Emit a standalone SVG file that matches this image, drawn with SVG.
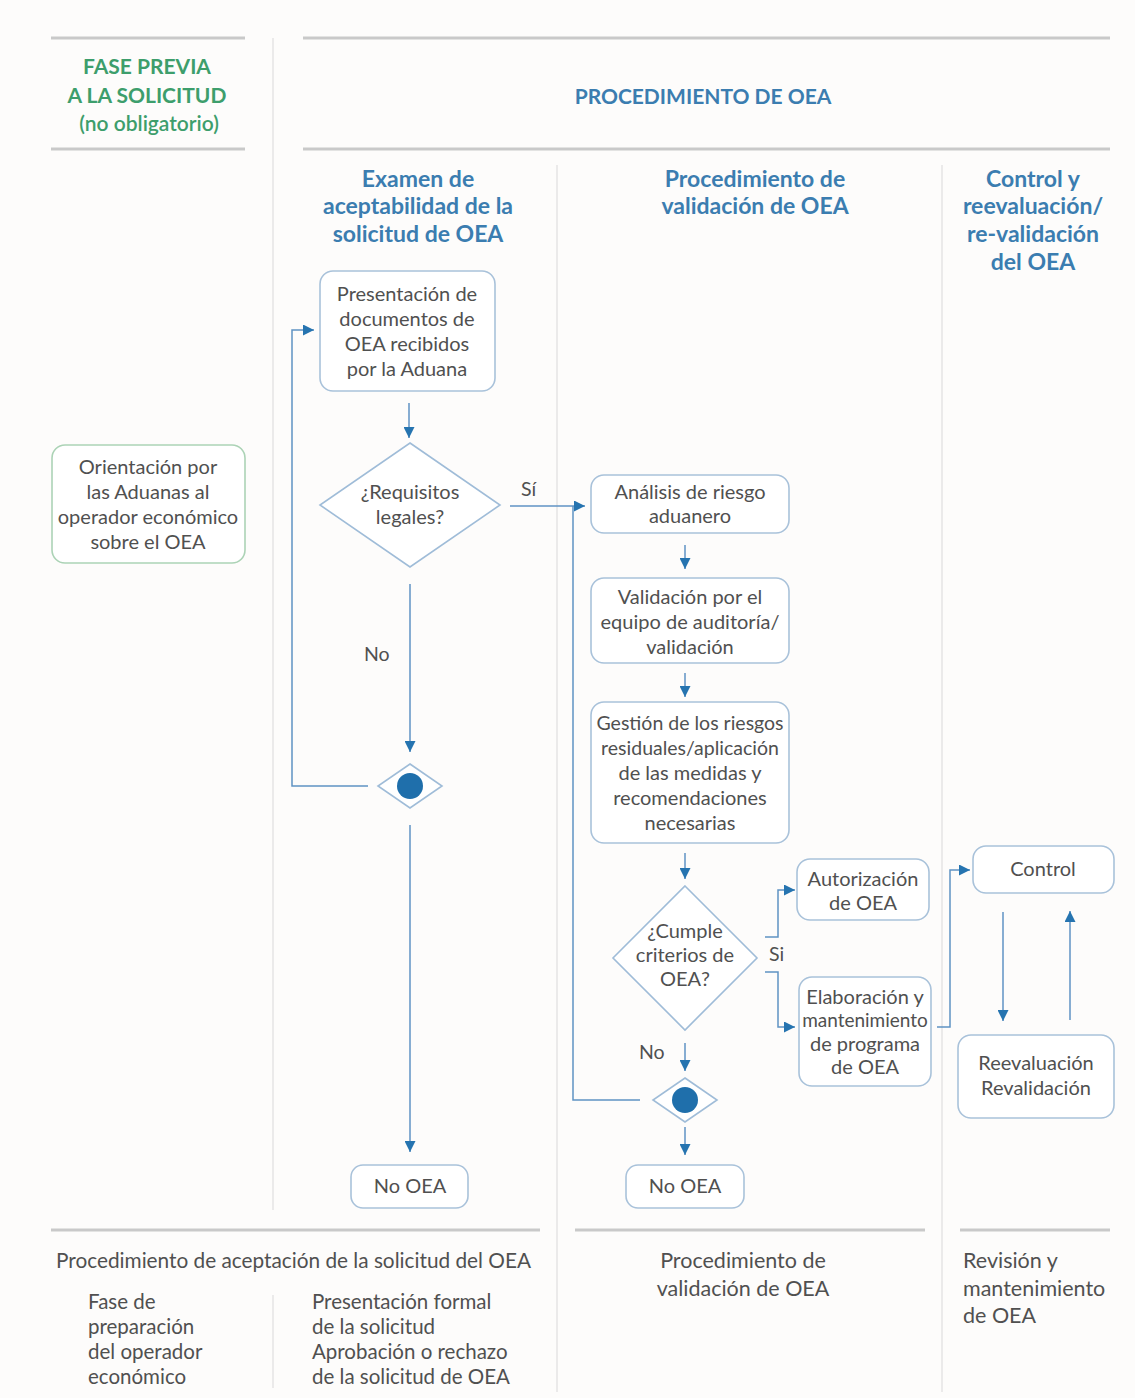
<svg xmlns="http://www.w3.org/2000/svg" width="1135" height="1398" viewBox="0 0 1135 1398">
<defs>
<marker id="ah" markerUnits="userSpaceOnUse" markerWidth="11" markerHeight="11" refX="10" refY="5" orient="auto" viewBox="0 0 10 10">
<path d="M0,0 L10,5 L0,10 z" fill="#2674b0"/>
</marker>
</defs>
<style>
text{font-family:Lato,"Liberation Sans",sans-serif;}
.hl{stroke:#c9c9c9;stroke-width:3;fill:none;}
.vl{stroke:#e4e4e4;stroke-width:1.5;fill:none;}
.box{fill:#ffffff;stroke:#a9c2da;stroke-width:1.6;}
.gbox{fill:#ffffff;stroke:#acd3b6;stroke-width:1.6;}
.dia{fill:#ffffff;stroke:#9fbcd8;stroke-width:1.6;}
.t{font-size:20px;fill:#505050;text-anchor:middle;}
.lbl{font-size:19.5px;fill:#505050;}
.h{font-size:23px;font-weight:bold;fill:#3b7db0;text-anchor:middle;}
.g{font-size:21px;font-weight:bold;fill:#3d9e6c;text-anchor:middle;}
.b{font-size:20.5px;fill:#505050;}
.bb{font-size:21.5px;fill:#505050;}
.c{stroke:#5f93c4;stroke-width:1.5;fill:none;}
.ca{stroke:#5f93c4;stroke-width:1.5;fill:none;marker-end:url(#ah);}
.dot{fill:#1f6fab;}
</style>
<rect x="0" y="0" width="1135" height="1398" fill="#fdfcfb"/>

<g id="frame">
<line class="hl" x1="51" y1="38" x2="245" y2="38"/>
<line class="hl" x1="51" y1="149" x2="245" y2="149"/>
<line class="hl" x1="303" y1="38" x2="1110" y2="38"/>
<line class="hl" x1="303" y1="149" x2="1110" y2="149"/>
<line class="vl" x1="273" y1="38" x2="273" y2="1210"/>
<line class="vl" x1="557" y1="165" x2="557" y2="1392"/>
<line class="vl" x1="942" y1="165" x2="942" y2="1392"/>
<line class="hl" x1="51" y1="1230" x2="540" y2="1230"/>
<line class="hl" x1="575" y1="1230" x2="925" y2="1230"/>
<line class="hl" x1="960" y1="1230" x2="1110" y2="1230"/>
<line class="vl" x1="273" y1="1295" x2="273" y2="1388"/>
</g>

<g id="headers">
<text class="g" x="147" y="74">FASE PREVIA</text>
<text class="g" x="147" y="103">A LA SOLICITUD</text>
<text class="g" x="149" y="131" style="font-weight:600">(no obligatorio)</text>
<text class="h" x="703" y="104" style="font-size:21px">PROCEDIMIENTO DE OEA</text>
<text class="h" x="418" y="187">Examen de</text>
<text class="h" x="418" y="214">aceptabilidad de la</text>
<text class="h" x="418" y="242">solicitud de OEA</text>
<text class="h" x="755" y="187">Procedimiento de</text>
<text class="h" x="755" y="214">validación de OEA</text>
<text class="h" x="1033" y="187">Control y</text>
<text class="h" x="1033" y="214">reevaluación/</text>
<text class="h" x="1033" y="242">re-validación</text>
<text class="h" x="1033" y="270">del OEA</text>
</g>

<g id="connectors">
<line class="ca" x1="409" y1="403" x2="409" y2="438"/>
<line class="ca" x1="510" y1="506" x2="585" y2="506"/>
<line class="ca" x1="410" y1="584" x2="410" y2="752"/>
<polyline class="ca" points="368,786 292,786 292,330 314,330"/>
<line class="ca" x1="410" y1="825" x2="410" y2="1152"/>
<line class="ca" x1="685" y1="545" x2="685" y2="569"/>
<line class="ca" x1="685" y1="673" x2="685" y2="697"/>
<line class="ca" x1="685" y1="853" x2="685" y2="879"/>
<line class="ca" x1="685" y1="1043" x2="685" y2="1071"/>
<polyline class="c" points="640,1100 573,1100 573,506"/>
<line class="ca" x1="685" y1="1127" x2="685" y2="1155"/>
<polyline class="ca" points="765,937 778,937 778,890 795,890"/>
<polyline class="ca" points="765,972 778,972 778,1027 795,1027"/>
<polyline class="ca" points="937,1027 950,1027 950,870 970,870"/>
<line class="ca" x1="1003" y1="912" x2="1003" y2="1021"/>
<line class="ca" x1="1070" y1="1020" x2="1070" y2="911"/>
<text class="lbl" x="521" y="496">Sí</text>
<text class="lbl" x="364" y="661">No</text>
<text class="lbl" x="769" y="961">Si</text>
<text class="lbl" x="639" y="1059">No</text>
</g>

<g id="n-orientacion">
<rect class="gbox" x="52" y="445" width="193" height="118" rx="13"/>
<text class="t" x="148" y="474">Orientación por</text>
<text class="t" x="148" y="499">las Aduanas al</text>
<text class="t" x="148" y="524">operador económico</text>
<text class="t" x="148" y="549">sobre el OEA</text>
</g>

<g id="n-presentacion">
<rect class="box" x="320" y="271" width="175" height="120" rx="13"/>
<text class="t" x="407" y="301">Presentación de</text>
<text class="t" x="407" y="326">documentos de</text>
<text class="t" x="407" y="351">OEA recibidos</text>
<text class="t" x="407" y="376">por la Aduana</text>
</g>

<g id="n-requisitos">
<polygon class="dia" points="410,443 500,505 410,567 320,505"/>
<text class="t" x="410" y="499">¿Requisitos</text>
<text class="t" x="410" y="524">legales?</text>
</g>

<g id="n-merge1">
<polygon class="dia" points="410,764 442,786 410,808 378,786"/>
<circle class="dot" cx="410" cy="786" r="13"/>
</g>

<g id="n-nooea1">
<rect class="box" x="351" y="1165" width="117" height="43" rx="12"/>
<text class="t" x="410" y="1193">No OEA</text>
</g>

<g id="n-analisis">
<rect class="box" x="591" y="475" width="198" height="58" rx="13"/>
<text class="t" x="690" y="499">Análisis de riesgo</text>
<text class="t" x="690" y="523">aduanero</text>
</g>

<g id="n-validacion">
<rect class="box" x="591" y="578" width="198" height="85" rx="13"/>
<text class="t" x="690" y="604">Validación por el</text>
<text class="t" x="690" y="629">equipo de auditoría/</text>
<text class="t" x="690" y="654">validación</text>
</g>

<g id="n-gestion">
<rect class="box" x="591" y="702" width="198" height="141" rx="13"/>
<text class="t" x="690" y="730" style="font-size:19.5px">Gestión de los riesgos</text>
<text class="t" x="690" y="755" style="font-size:19.5px">residuales/aplicación</text>
<text class="t" x="690" y="780">de las medidas y</text>
<text class="t" x="690" y="805">recomendaciones</text>
<text class="t" x="690" y="830">necesarias</text>
</g>

<g id="n-cumple">
<polygon class="dia" points="685,886 757,958 685,1030 613,958"/>
<text class="t" x="685" y="938">¿Cumple</text>
<text class="t" x="685" y="962">criterios de</text>
<text class="t" x="685" y="986">OEA?</text>
</g>

<g id="n-merge2">
<polygon class="dia" points="685,1078 717,1100 685,1122 653,1100"/>
<circle class="dot" cx="685" cy="1100" r="13"/>
</g>

<g id="n-nooea2">
<rect class="box" x="626" y="1165" width="118" height="43" rx="12"/>
<text class="t" x="685" y="1193">No OEA</text>
</g>

<g id="n-autorizacion">
<rect class="box" x="797" y="859" width="132" height="61" rx="13"/>
<text class="t" x="863" y="886">Autorización</text>
<text class="t" x="863" y="910">de OEA</text>
</g>

<g id="n-elaboracion">
<rect class="box" x="799" y="977" width="132" height="109" rx="13"/>
<text class="t" x="865" y="1004">Elaboración y</text>
<text class="t" x="865" y="1027" style="font-size:19px">mantenimiento</text>
<text class="t" x="865" y="1051">de programa</text>
<text class="t" x="865" y="1074">de OEA</text>
</g>

<g id="n-control">
<rect class="box" x="973" y="846" width="141" height="47" rx="13"/>
<text class="t" x="1043" y="876">Control</text>
</g>

<g id="n-reevaluacion">
<rect class="box" x="958" y="1035" width="156" height="83" rx="13"/>
<text class="t" x="1036" y="1070">Reevaluación</text>
<text class="t" x="1036" y="1095">Revalidación</text>
</g>

<g id="footer">
<text class="bb" x="56" y="1268" textLength="475" lengthAdjust="spacingAndGlyphs">Procedimiento de aceptación de la solicitud del OEA</text>
<text class="b" x="88" y="1309">Fase de</text>
<text class="b" x="88" y="1334">preparación</text>
<text class="b" x="88" y="1359">del operador</text>
<text class="b" x="88" y="1384">económico</text>
<text class="b" x="312" y="1309">Presentación formal</text>
<text class="b" x="312" y="1334">de la solicitud</text>
<text class="b" x="312" y="1359">Aprobación  o rechazo</text>
<text class="b" x="312" y="1384">de la solicitud de OEA</text>
<text class="bb" x="743" y="1268" style="text-anchor:middle">Procedimiento de</text>
<text class="bb" x="743" y="1296" style="text-anchor:middle">validación de OEA</text>
<text class="bb" x="963" y="1268">Revisión y</text>
<text class="bb" x="963" y="1296">mantenimiento</text>
<text class="bb" x="963" y="1323">de OEA</text>
</g>
</svg>
